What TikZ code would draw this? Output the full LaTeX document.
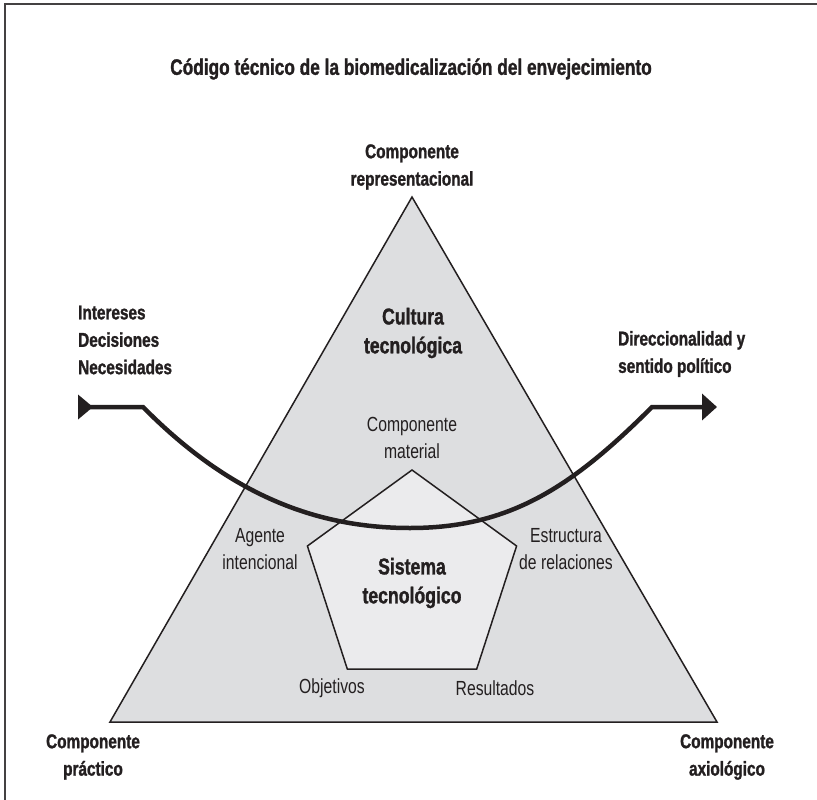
\documentclass[tikz,border=0pt]{standalone}
\usepackage{fontspec}
\setmainfont{Liberation Sans}[FakeStretch=0.77, BoldFeatures={FakeBold=1.3}]
\usetikzlibrary{arrows.meta}
\definecolor{ink}{HTML}{231F20}
\definecolor{trifill}{HTML}{DDDEE0}
\definecolor{pentfill}{HTML}{EBEBED}
\begin{document}
\begin{tikzpicture}[x=1bp,y=-1bp,
  every node/.style={text=ink, align=center, inner sep=0pt},
  boldlab/.style={font=\fontsize{20}{27.5}\selectfont\bfseries},
  reglab/.style={font=\fontsize{20.5}{27}\selectfont},
  biglab/.style={font=\fontsize{23}{29}\selectfont\bfseries},
  shapeline/.style={draw=ink, line width=1.5bp, line join=miter},
  flow/.style={draw=ink, line width=4.5bp}]
\useasboundingbox (0,0) rectangle (817,800);
\draw[ink!85, line width=2bp] (5,800) -- (5,4) -- (817,4);

% triangle
\coordinate (A) at (412,197);
\coordinate (B) at (110,722);
\coordinate (C) at (717,722);
\path[shapeline, fill=trifill] (A) -- (B) -- (C) -- cycle;

% pentagon
\coordinate (P1) at (412,470);
\coordinate (P2) at (516.6,546);
\coordinate (P3) at (476.7,669);
\coordinate (P4) at (347.3,669);
\coordinate (P5) at (307.4,546);
\path[shapeline, fill=pentfill] (P1) -- (P2) -- (P3) -- (P4) -- (P5) -- cycle;

% flow curve
\coordinate (L) at (78,407);
\coordinate (L1) at (143,407);
\coordinate (M) at (410,528);
\coordinate (R1) at (652,407);
\coordinate (R) at (717,407);
\path[flow, {Triangle[reversed,length=15bp,width=24bp]}-{Triangle[length=15bp,width=26bp]}]
  (L) -- (L1) .. controls (225,490) and (310,528) .. (M)
  .. controls (510,528) and (572,487) .. (R1) -- (R);

% texts
\node[font=\fontsize{22.5}{26}\selectfont\bfseries] (title) at (411,69) {Código técnico de la biomedicalización del envejecimiento};
\node[boldlab] (rep) at (412,167) {Componente\\representacional};
\node[boldlab, anchor=west, align=left] (int) at (78,340) {Intereses\\Decisiones\\Necesidades};
\node[boldlab, anchor=west, align=left] (dir) at (618,354) {Direccionalidad y\\sentido político};
\node[biglab] (cult) at (413,333) {Cultura\\tecnológica};
\node[reglab] (mat) at (412,438) {Componente\\material};
\node[reglab] (agente) at (260,549) {Agente\\intencional};
\node[reglab] (estr) at (566,549) {Estructura\\de relaciones};
\node[biglab] (sis) at (412,583) {Sistema\\tecnológico};
\node[reglab] (obj) at (332,688) {Objetivos};
\node[reglab] (res) at (495,688) {Resultados};
\node[boldlab] (prac) at (93,757) {Componente\\práctico};
\node[boldlab] (axi) at (727,757) {Componente\\axiológico};
\end{tikzpicture}
\end{document}
